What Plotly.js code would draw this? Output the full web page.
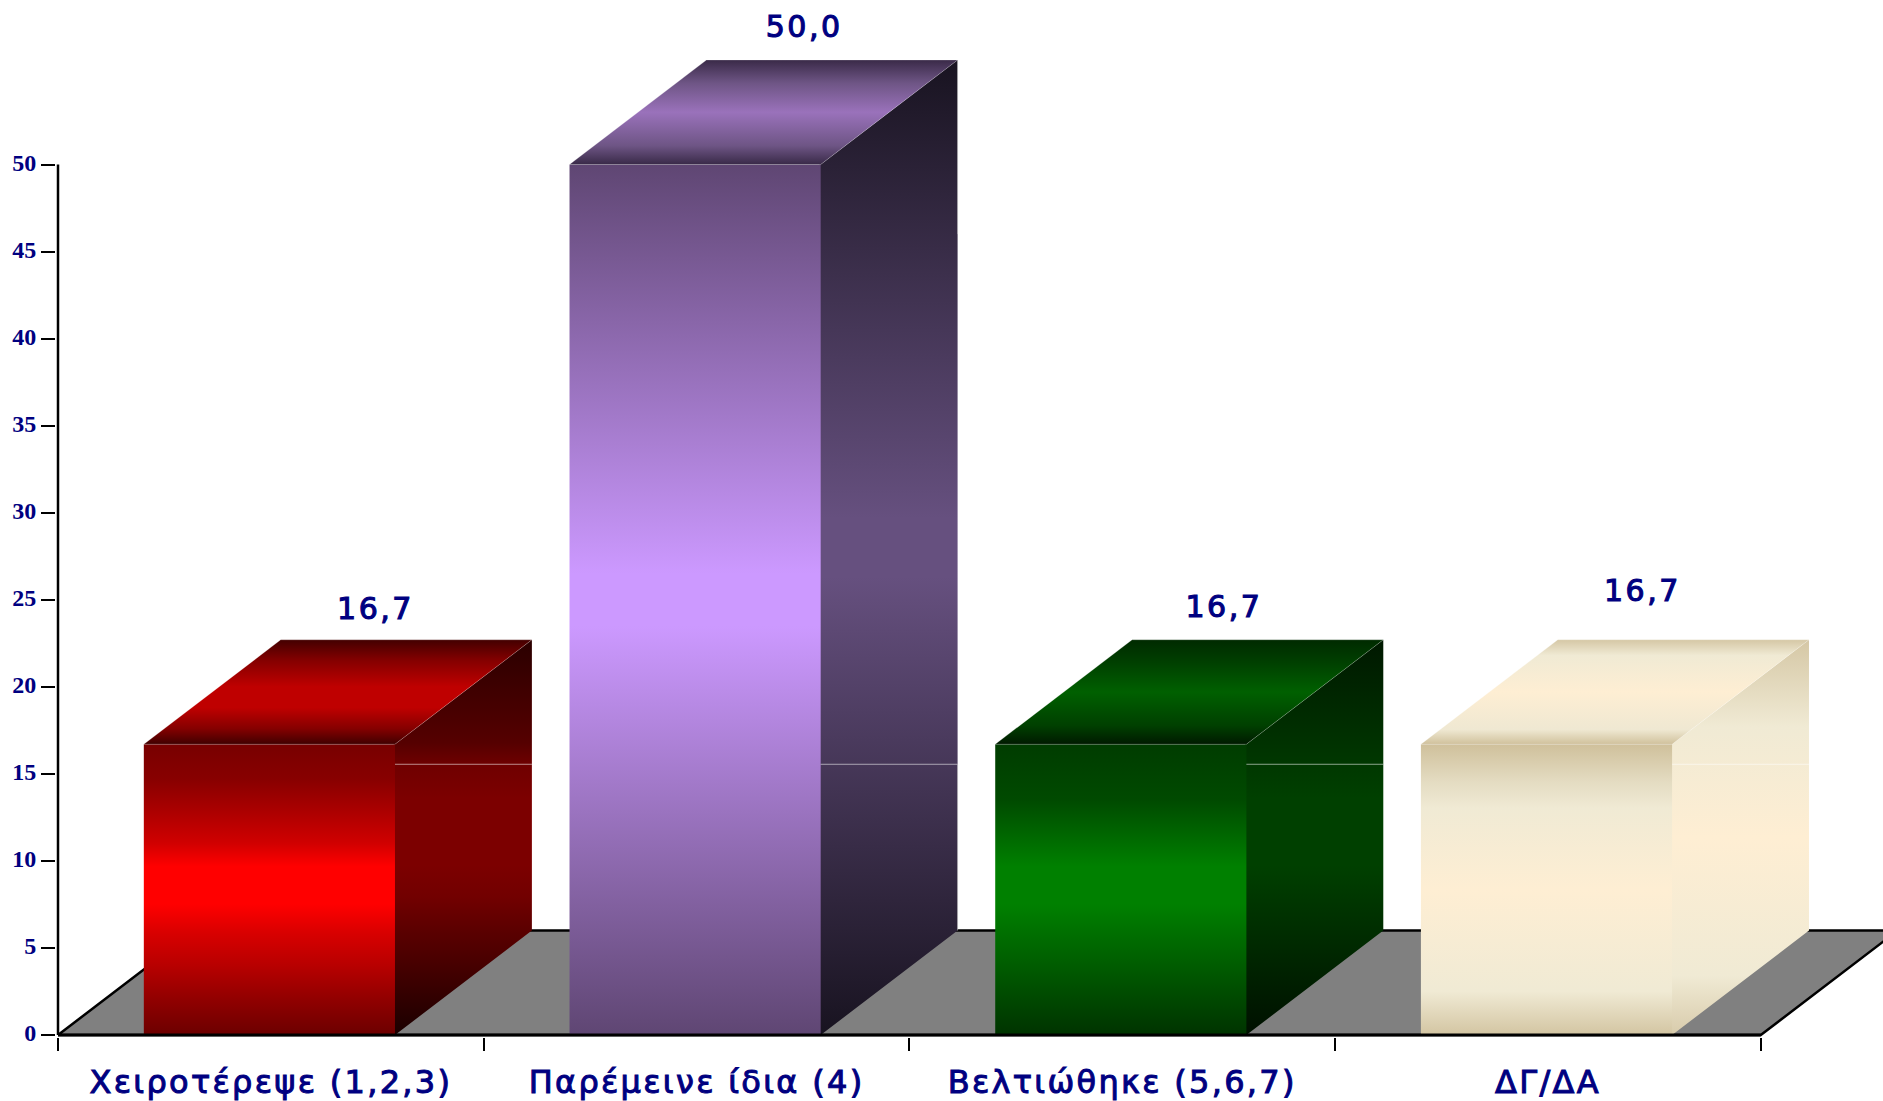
<!DOCTYPE html>
<html>
<head>
<meta charset="utf-8">
<script src="https://cdn.plot.ly/plotly-3.0.1.min.js"></script>
<style>
html,body{margin:0;padding:0;background:#fff;overflow:hidden}
#chart{width:1883px;height:1101px}
.xtick text{letter-spacing:2.3px;stroke:#000080 !important;stroke-width:1px !important}
.textpoint text{letter-spacing:2.5px;stroke:#000080 !important;stroke-width:1.1px !important}
</style>
</head>
<body>
<div id="chart"></div>
<script>
const categories = ['Χειροτέρεψε (1,2,3)', 'Παρέμεινε ίδια (4)', 'Βελτιώθηκε (5,6,7)', 'ΔΓ/ΔΑ'];
const values = [16.7, 50.0, 16.7, 16.7];
const yTicks = [0, 5, 10, 15, 20, 25, 30, 35, 40, 45, 50];

const NAVY = '#000080';
const barWidth = 0.59, depthX = 0.3216, depthY = 6, barShift = -0.0034;
const labelDX = [0.085, 0.092, 0.078, 0.061];
const labelDY = [1.6, 1.75, 1.75, 2.65];
const seamY = 15.55;

const frontScales = [
  [[0,'#6c0000'],[0.12,'#900000'],[0.24,'#b80000'],[0.35,'#d80000'],[0.45,'#ff0000'],[0.58,'#ff0000'],[0.66,'#d00000'],[0.78,'#a80000'],[0.88,'#880000'],[1,'#780000']],
  [[0,'#5f4673'],[0.47,'#cc99ff'],[0.53,'#cc99ff'],[1,'#5f4673']],
  [[0,'#003300'],[0.12,'#004800'],[0.45,'#008000'],[0.58,'#008000'],[0.81,'#004a00'],[1,'#003c00']],
  [[0,'#d3c5a2'],[0.15,'#f0ead4'],[0.5,'#feeed3'],[0.78,'#f0ead4'],[0.87,'#e4dcc2'],[1,'#cfc09b']]
];
const sideScales = [
  [[0,'#1a0000'],[0.17,'#450000'],[0.26,'#5a0000'],[0.35,'#720000'],[0.43,'#7c0000'],[0.6,'#7c0000'],[0.68,'#700000'],[0.74,'#550000'],[1,'#2a0000']],
  [[0,'#181320'],[0.47,'#66507f'],[0.53,'#66507f'],[1,'#181320']],
  [[0,'#001000'],[0.43,'#004000'],[0.6,'#004000'],[1,'#001800']],
  [[0,'#d8cbab'],[0.15,'#f0ead4'],[0.5,'#feeed3'],[0.78,'#f0ead4'],[1,'#d5c7a5']]
];
const topScales = [
  [[0,'#400000'],[0.15,'#850000'],[0.35,'#bf0000'],[0.55,'#bf0000'],[0.8,'#850000'],[1,'#430000']],
  [[0,'#392a48'],[0.18,'#6e5585'],[0.5,'#9a72bb'],[0.78,'#6e5585'],[1,'#3a2a48']],
  [[0,'#001a00'],[0.18,'#004000'],[0.5,'#006000'],[0.78,'#004000'],[1,'#002a00']],
  [[0,'#d0c19c'],[0.14,'#efe8d2'],[0.5,'#feeed3'],[0.85,'#f0ead4'],[1,'#d5c7a5']]
];

const traces = [];
const last = categories.length - 0.5, first = -0.5;
const pxPerCat = 425.7, pxPerUnit = 17.41, pad = 2;

// floor
traces.push({
  x:[first,last,last+depthX,first+depthX,first], y:[0,0,depthY,depthY,0],
  mode:'lines', fill:'toself', fillcolor:'#808080',
  line:{color:'#000',width:2.5}, hoverinfo:'skip', showlegend:false
});

function face(xs, ys, scale, edge){
  traces.push({
    x:xs, y:ys, mode:'lines', fill:'toself',
    fillgradient:{type:'vertical', colorscale:scale},
    line:{color:edge,width:edge?1:0}, hoverinfo:'skip', showlegend:false
  });
}

categories.forEach((c,i)=>{
  const v = values[i], l = i + barShift - barWidth/2, r = i + barShift + barWidth/2;
  const edge = 'rgba(255,255,255,0.2)', lap = 0.003;
  face([r-lap,r,r+depthX,r+depthX,r,r-lap,r-lap],[0,0,depthY,v+depthY,v,v,0],sideScales[i],'');
  face([l,r,r,l,l],[0,0,v,v,0],frontScales[i],'');
  face([l,r,r+depthX,l+depthX,l],[v,v,v+depthY,v+depthY,v],topScales[i],edge);
  traces.push({
    x:[r,r+depthX], y:[seamY,seamY], mode:'lines',
    line:{color:'rgba(255,255,255,0.55)',width:1}, hoverinfo:'skip', showlegend:false
  });
  if (v > 40) {
    traces.push({
      x:[r+depthX,r+depthX,null,r+depthX,r+depthX], y:[depthY,seamY,null,46,v+depthY], mode:'lines',
      line:{color:'rgba(190,190,190,0.6)',width:1}, hoverinfo:'skip', showlegend:false
    });
  }
});

// y axis line from 0 to the last tick
traces.push({
  x:[first,first], y:[yTicks[0],yTicks[yTicks.length-1]], mode:'lines',
  line:{color:'#000',width:2.5}, hoverinfo:'skip', showlegend:false
});
// front line of the floor, over the foot of the bars
traces.push({
  x:[first,last], y:[0,0], mode:'lines',
  line:{color:'#000',width:3}, hoverinfo:'skip', showlegend:false
});

// value labels
traces.push({
  x:values.map((v,i)=>i+depthX/2+labelDX[i]),
  y:values.map((v,i)=>v+depthY+labelDY[i]),
  text:values.map(v=>v.toFixed(1).replace('.',',')),
  mode:'text', textposition:'middle center', cliponaxis:false,
  textfont:{family:'"DejaVu Sans", sans-serif',size:30,color:NAVY},
  hoverinfo:'skip', showlegend:false
});

const layout = {
  width:1883, height:1101,
  margin:{l:56,r:0,t:0,b:64,pad:0},
  paper_bgcolor:'#fff', plot_bgcolor:'rgba(0,0,0,0)',
  showlegend:false,
  xaxis:{
    range:[first-pad/pxPerCat, first+(1883-58)/pxPerCat], zeroline:false, showgrid:false, showline:false,
    tickmode:'array', tickvals:categories.map((c,i)=>i), ticktext:categories,
    ticks:'', ticklabelstandoff:23, tickangle:0,
    tickfont:{family:'"DejaVu Sans", sans-serif',size:32,color:NAVY},
    minor:{tickmode:'array', tickvals:[-0.5,0.5,1.5,2.5,3.5], ticks:'outside', ticklen:13, tickwidth:2, tickcolor:'#000', showgrid:false}
  },
  yaxis:{
    range:[-pad/pxPerUnit, 1035/pxPerUnit], zeroline:false, showgrid:false, showline:false,
    tickmode:'array', tickvals:yTicks, ticktext:yTicks.map(String),
    ticks:'outside', ticklen:14, tickwidth:2, tickcolor:'#000',
    ticklabelshift:-2,
    tickfont:{family:'"Liberation Serif", serif',size:24,color:NAVY,weight:'bold'}
  }
};
Plotly.newPlot('chart', traces, layout, {displayModeBar:false, staticPlot:true});
</script>
</body>
</html>
